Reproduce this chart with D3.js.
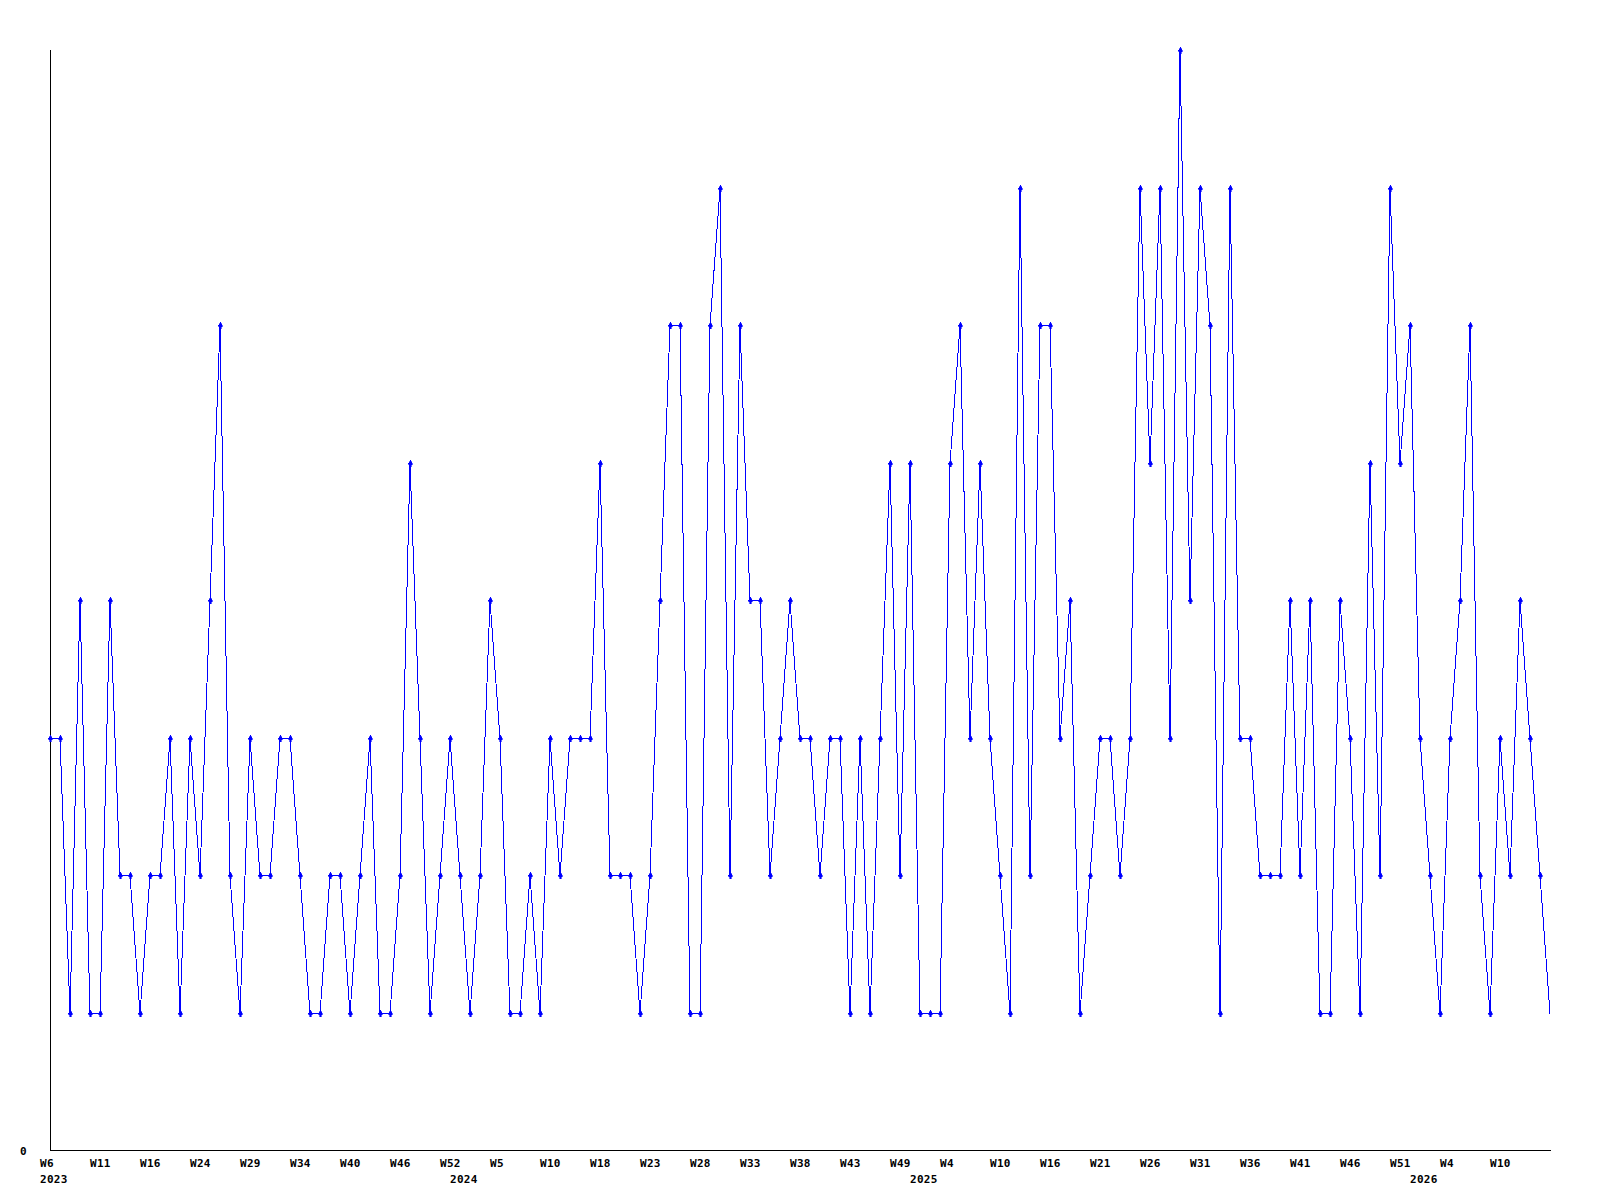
<!DOCTYPE html>
<html>
<head>
<meta charset="utf-8">
<script src="https://cdn.jsdelivr.net/npm/d3@7"></script>
<style>
  html, body { margin: 0; padding: 0; background: #fff; }
  svg { display: block; }
  text { font-family: "DejaVu Sans Mono", "Liberation Mono", monospace; font-weight: bold; font-size: 11px; fill: #000; letter-spacing: 0.3px; }
</style>
</head>
<body>
<svg id="chart" width="1600" height="1200"></svg>
<script>
// ISO week label for each data point (x categories)
const weeks = [
  6,7,8,9,10, 11,12,13,14,15, 16,17,18,20,22, 24,25,26,27,28, 29,30,31,32,33,
  34,35,36,38,39, 40,41,42,43,45, 46,47,48,49,51, 52,1,2,3,4, 5,6,7,8,9,
  10,11,13,15,16, 18,19,20,21,22, 23,24,25,26,27, 28,29,30,31,32, 33,34,35,36,37,
  38,39,40,41,42, 43,44,45,46,48, 49,51,1,2,3, 4,5,6,7,9, 10,11,12,13,15,
  16,17,18,19,20, 21,22,23,24,25, 26,27,28,29,30, 31,32,33,34,35, 36,37,38,39,40,
  41,42,43,44,45, 46,47,48,49,50, 51,52,1,2,3, 4,5,6,7,9, 10,11,12,13,14,
  15
];
const years = [
  2023,2023,2023,2023,2023, 2023,2023,2023,2023,2023, 2023,2023,2023,2023,2023, 2023,2023,2023,2023,2023, 2023,2023,2023,2023,2023,
  2023,2023,2023,2023,2023, 2023,2023,2023,2023,2023, 2023,2023,2023,2023,2023, 2023,2024,2024,2024,2024, 2024,2024,2024,2024,2024,
  2024,2024,2024,2024,2024, 2024,2024,2024,2024,2024, 2024,2024,2024,2024,2024, 2024,2024,2024,2024,2024, 2024,2024,2024,2024,2024,
  2024,2024,2024,2024,2024, 2024,2024,2024,2024,2024, 2024,2024,2025,2025,2025, 2025,2025,2025,2025,2025, 2025,2025,2025,2025,2025,
  2025,2025,2025,2025,2025, 2025,2025,2025,2025,2025, 2025,2025,2025,2025,2025, 2025,2025,2025,2025,2025, 2025,2025,2025,2025,2025,
  2025,2025,2025,2025,2025, 2025,2025,2025,2025,2025, 2025,2025,2026,2026,2026, 2026,2026,2026,2026,2026, 2026,2026,2026,2026,2026,
  2026
];
// series values
const values = [
  3,3,1,4,1,1,4,2,2,1,
  2,2,3,1,3,2,4,6,2,1,
  3,2,2,3,3,2,1,1,2,2,
  1,2,3,1,1,2,5,3,1,2,
  3,2,1,2,4,3,1,1,2,1,
  3,2,3,3,3,5,2,2,2,1,
  2,4,6,6,1,1,6,7,2,6,
  4,4,2,3,4,3,3,2,3,3,
  1,3,1,3,5,2,5,1,1,1,
  5,6,3,5,3,2,1,7,2,6,
  6,3,4,1,2,3,3,2,3,7,
  5,7,3,8,4,7,6,1,7,3,
  3,2,2,2,4,2,4,1,1,4,
  3,1,5,2,7,5,6,3,2,1,
  3,4,6,2,1,3,2,4,3,2,1
];
const yTicks = [0];
const tickEvery = 5;

const data = values.map((v, i) => ({ i, v, week: weeks[i], year: years[i] }));

const svg = d3.select("#chart");
const mLeft = 50, mRight = 1550, mTop = 50, mBottom = 1150.5;

const x = d3.scaleLinear().domain([0, values.length - 1]).range([mLeft, mRight]);
const y = d3.scaleLinear().domain([0, d3.max(values)]).range([mBottom, mTop]);

// axes lines
svg.append("line").attr("x1", mLeft + 0.5).attr("x2", mLeft + 0.5).attr("y1", mTop).attr("y2", mBottom)
  .attr("stroke", "#000").attr("stroke-width", 1).attr("shape-rendering", "crispEdges");
svg.append("line").attr("x1", mLeft).attr("x2", mRight + 1).attr("y1", mBottom).attr("y2", mBottom)
  .attr("stroke", "#000").attr("stroke-width", 1).attr("shape-rendering", "crispEdges");

// y tick labels
svg.selectAll("text.ylab").data(yTicks).join("text")
  .attr("class", "ylab")
  .attr("x", 20).attr("y", d => y(d) + 4)
  .text(d => d);

// x tick labels (every 5th point, not at the final point)
const tickIdx = d3.range(0, values.length - 1, tickEvery);
svg.selectAll("text.xlab").data(tickIdx).join("text")
  .attr("class", "xlab")
  .attr("x", i => x(i) - 10)
  .attr("y", 1167)
  .text(i => "W" + weeks[i]);

// year labels at first point of each year
const yearStarts = data.filter((d, k) => k === 0 || d.year !== data[k - 1].year);
svg.selectAll("text.year").data(yearStarts).join("text")
  .attr("class", "year")
  .attr("x", d => x(d.i) - 10)
  .attr("y", 1183)
  .text(d => d.year);

// line
const line = d3.line().x(d => Math.round(x(d.i))).y(d => Math.round(y(d.v)) + 0.5);
svg.append("path").datum(data)
  .attr("d", line)
  .attr("fill", "none")
  .attr("stroke", "#0000ff")
  .attr("stroke-width", 1)
  .attr("shape-rendering", "crispEdges");

// markers (last point has none)
const sym = d3.symbol().type(d3.symbolDiamond).size(14);
svg.selectAll("path.mk").data(data.slice(0, -1)).join("path")
  .attr("class", "mk")
  .attr("transform", d => `translate(${Math.round(x(d.i)) + 0.5},${Math.round(y(d.v)) + 0.5})`)
  .attr("d", sym)
  .attr("fill", "#0000ff")
  .attr("stroke", "#0000ff")
  .attr("stroke-width", 0.6)
  .attr("shape-rendering", "crispEdges");
</script>
</body>
</html>
